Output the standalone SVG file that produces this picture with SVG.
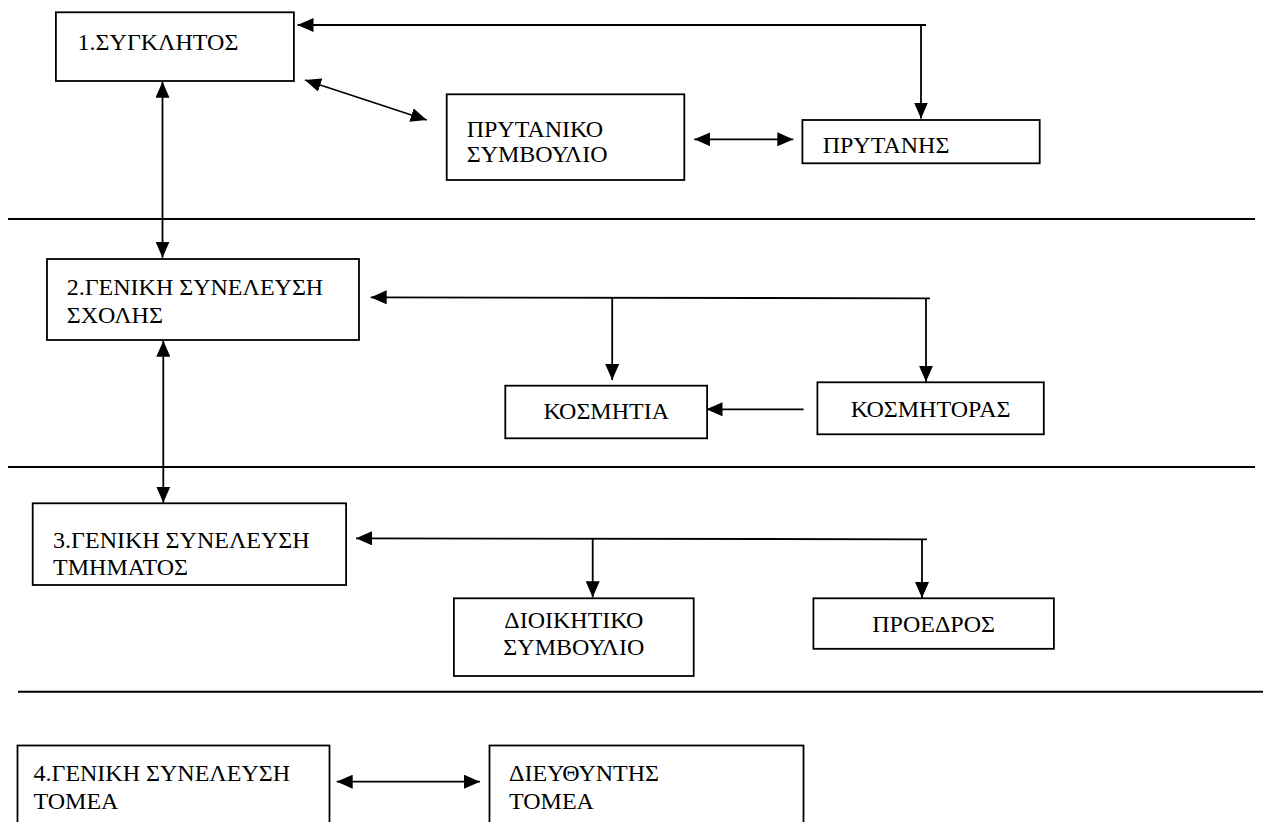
<svg xmlns="http://www.w3.org/2000/svg" width="1266" height="822" viewBox="0 0 1266 822">
<style>
.box{fill:#fff;stroke:#000;stroke-width:1.8}
.t{font-family:"Liberation Serif","Times New Roman","DejaVu Serif",serif;font-size:24px;fill:#000}
.c{text-anchor:middle}
.ln{fill:none;stroke:#000;stroke-width:1.8}
.div{fill:none;stroke:#000;stroke-width:2}
</style>
<defs>
<marker id="ah" markerUnits="userSpaceOnUse" markerWidth="16" markerHeight="14" refX="16" refY="7" orient="auto-start-reverse">
<path d="M0,0 L16,7 L0,14 z" fill="#000"/>
</marker>
</defs>
<rect width="1266" height="822" fill="#fff"/>
<g id="dividers">
<line class="div" x1="8" y1="219" x2="1255" y2="219"/>
<line class="div" x1="8" y1="467" x2="1255" y2="467"/>
<line class="div" x1="18" y1="691.7" x2="1263" y2="691.7"/>
</g>
<g id="connectors">
<path class="ln" d="M926,25 L297.5,25" marker-end="url(#ah)"/>
<path class="ln" d="M921,25 L921,118.5" marker-end="url(#ah)"/>
<path class="ln" d="M305,80 L426.7,120" marker-start="url(#ah)" marker-end="url(#ah)"/>
<path class="ln" d="M694.3,139.3 L793.3,139.3" marker-start="url(#ah)" marker-end="url(#ah)"/>
<path class="ln" d="M162.5,81.7 L162.5,257.7" marker-start="url(#ah)" marker-end="url(#ah)"/>
<path class="ln" d="M930,298.3 L370.7,297.3" marker-end="url(#ah)"/>
<path class="ln" d="M612.2,297.8 L612.2,380" marker-end="url(#ah)"/>
<path class="ln" d="M926,298.3 L926,381.7" marker-end="url(#ah)"/>
<path class="ln" d="M803.6,409.3 L706.5,409.3" marker-end="url(#ah)"/>
<path class="ln" d="M163.3,340.7 L163.3,502.7" marker-start="url(#ah)" marker-end="url(#ah)"/>
<path class="ln" d="M927,539.3 L356,538.3" marker-end="url(#ah)"/>
<path class="ln" d="M592.7,538.6 L592.7,597.3" marker-end="url(#ah)"/>
<path class="ln" d="M922,539.3 L922,598" marker-end="url(#ah)"/>
<path class="ln" d="M336.7,781.7 L480,781.7" marker-start="url(#ah)" marker-end="url(#ah)"/>
</g>
<g id="n1">
<rect class="box" x="55.9" y="12.3" width="238" height="68.7"/>
<text class="t" x="77.6" y="50">1.ΣΥΓΚΛΗΤΟΣ</text>
</g>
<g id="n_prytaniko">
<rect class="box" x="446.7" y="94.3" width="237.6" height="85.7"/>
<text class="t" x="466.7" y="136.7">ΠΡΥΤΑΝΙΚΟ</text>
<text class="t" x="466.7" y="161.7">ΣΥΜΒΟΥΛΙΟ</text>
</g>
<g id="n_prytanis">
<rect class="box" x="802.4" y="120" width="237.3" height="43.3"/>
<text class="t" x="822.7" y="153.3">ΠΡΥΤΑΝΗΣ</text>
</g>
<g id="n2">
<rect class="box" x="47" y="259" width="312" height="81"/>
<text class="t" x="66.7" y="295">2.ΓΕΝΙΚΗ ΣΥΝΕΛΕΥΣΗ</text>
<text class="t" x="66.7" y="322.7">ΣΧΟΛΗΣ</text>
</g>
<g id="n_kosmitia">
<rect class="box" x="505.3" y="385.7" width="201.8" height="52.6"/>
<text class="t c" x="606.2" y="419">ΚΟΣΜΗΤΙΑ</text>
</g>
<g id="n_kosmitoras">
<rect class="box" x="817.4" y="382.3" width="226.4" height="52"/>
<text class="t c" x="930.6" y="417.3">ΚΟΣΜΗΤΟΡΑΣ</text>
</g>
<g id="n3">
<rect class="box" x="32.7" y="503.3" width="313.4" height="81.7"/>
<text class="t" x="53.1" y="547.7">3.ΓΕΝΙΚΗ ΣΥΝΕΛΕΥΣΗ</text>
<text class="t" x="53.1" y="575">ΤΜΗΜΑΤΟΣ</text>
</g>
<g id="n_dioikitiko">
<rect class="box" x="453.9" y="598.3" width="239.8" height="77.7"/>
<text class="t c" x="573.8" y="627.7">ΔΙΟΙΚΗΤΙΚΟ</text>
<text class="t c" x="573.8" y="655">ΣΥΜΒΟΥΛΙΟ</text>
</g>
<g id="n_proedros">
<rect class="box" x="813.4" y="598.3" width="240.5" height="50.5"/>
<text class="t c" x="933.6" y="631.7">ΠΡΟΕΔΡΟΣ</text>
</g>
<g id="n4">
<rect class="box" x="17.5" y="745.5" width="312" height="100"/>
<text class="t" x="33.5" y="781">4.ΓΕΝΙΚΗ ΣΥΝΕΛΕΥΣΗ</text>
<text class="t" x="33.5" y="809">ΤΟΜΕΑ</text>
</g>
<g id="n_dieythyntis">
<rect class="box" x="489.5" y="745.5" width="314" height="100"/>
<text class="t" x="509" y="781">ΔΙΕΥΘΥΝΤΗΣ</text>
<text class="t" x="509" y="809">ΤΟΜΕΑ</text>
</g>
</svg>
